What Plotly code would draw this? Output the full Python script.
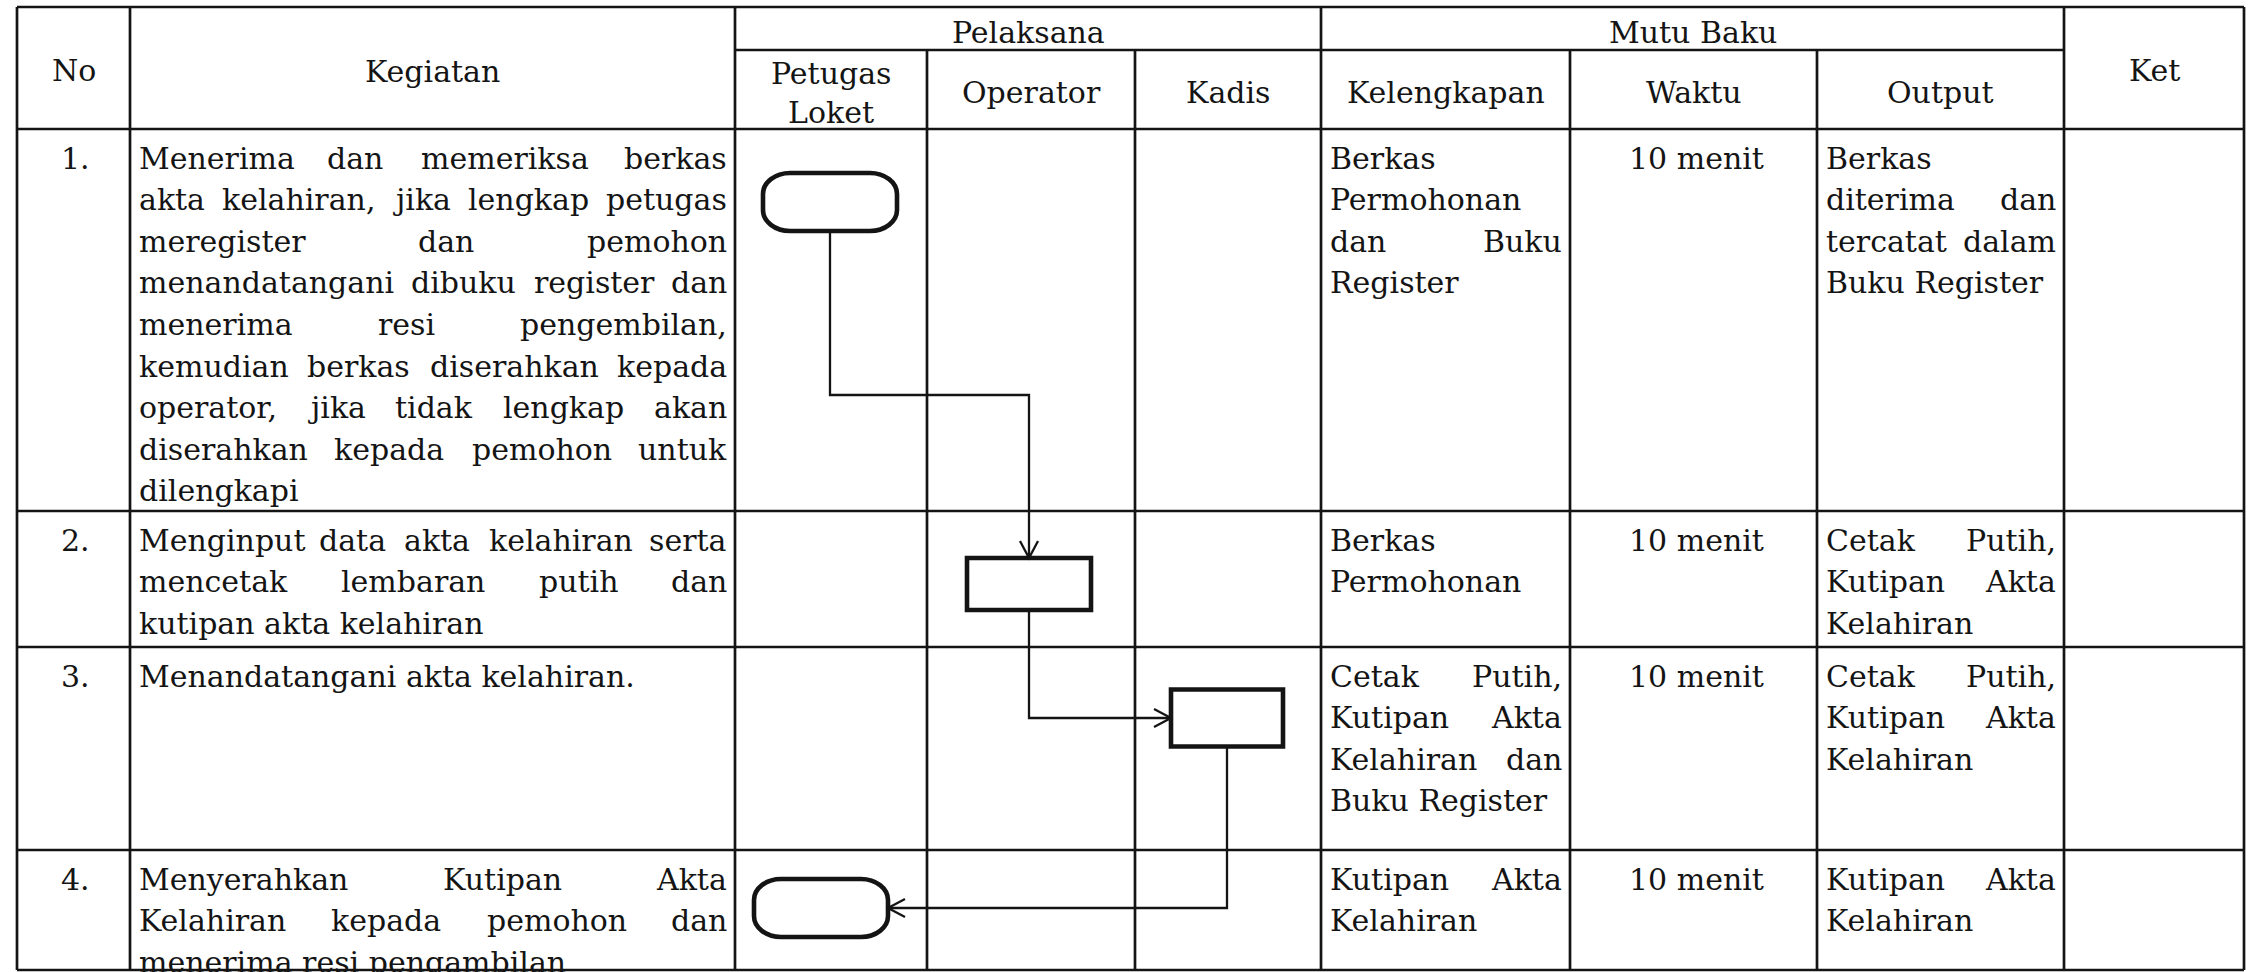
import plotly.graph_objects as go

# ---------------- data ----------------
head_no = "No"
head_kegiatan = "Kegiatan"
head_pelaksana = "Pelaksana"
head_mutu = "Mutu Baku"
head_ket = "Ket"
pelaksana_cols = [["Petugas", "Loket"], ["Operator"], ["Kadis"]]
mutu_cols = [["Kelengkapan"], ["Waktu"], ["Output"]]

step_no = ["1.", "2.", "3.", "4."]
kegiatan = [
    ["Menerima dan memeriksa berkas",
     "akta kelahiran, jika lengkap petugas",
     "meregister dan pemohon",
     "menandatangani dibuku register dan",
     "menerima resi pengembilan,",
     "kemudian berkas diserahkan kepada",
     "operator, jika tidak lengkap akan",
     "diserahkan kepada pemohon untuk",
     "dilengkapi"],
    ["Menginput data akta kelahiran serta",
     "mencetak lembaran putih dan",
     "kutipan akta kelahiran"],
    ["Menandatangani akta kelahiran."],
    ["Menyerahkan Kutipan Akta",
     "Kelahiran kepada pemohon dan",
     "menerima resi pengambilan"],
]
kelengkapan = [
    ["Berkas", "Permohonan", "dan Buku", "Register"],
    ["Berkas", "Permohonan"],
    ["Cetak Putih,", "Kutipan Akta", "Kelahiran dan", "Buku Register"],
    ["Kutipan Akta", "Kelahiran"],
]
waktu = ["10 menit", "10 menit", "10 menit", "10 menit"]
output = [
    ["Berkas", "diterima dan", "tercatat dalam", "Buku Register"],
    ["Cetak Putih,", "Kutipan Akta", "Kelahiran"],
    ["Cetak Putih,", "Kutipan Akta", "Kelahiran"],
    ["Kutipan Akta", "Kelahiran"],
]
ket = ["", "", "", ""]
actor = [0, 1, 2, 0]            # index into pelaksana columns
symbol = ["terminator", "process", "process", "terminator"]

# ---------------- layout (pixel geometry) ----------------
W, H = 2249, 972
col_x = [17, 130, 735, 927, 1135, 1321, 1570, 1817, 2064, 2244]
y_top, y_sub, y_head = 7, 50, 129
row_bot = [511, 647, 850, 970]
row_top = [y_head] + row_bot[:-1]

FS = 30
FONT = "DejaVu Serif"
INK = "#141414"
LW_TABLE = 2.7
LW_BOX = 4.6
LW_CONN = 2.3
PAD_L, PAD_R = 7, 6
FIRST_LINE = 29
PITCH = 41.6

node_size = [(134, 58), (124, 52), (112, 57), (134, 58)]
node_dy = [73, 73, 71, 58]
node_dx = [-1, -2, -1, -10]
bend_12 = 266  # elbow of first connector measured from row-1 top

# approx DejaVu Serif advance widths (em)
CW = {' ': .318, 'a': .595, 'b': .641, 'c': .562, 'd': .641, 'e': .594, 'f': .361,
      'g': .641, 'h': .644, 'i': .320, 'j': .309, 'k': .614, 'l': .320, 'm': .962,
      'n': .644, 'o': .602, 'p': .641, 'q': .641, 'r': .478, 's': .511, 't': .402,
      'u': .644, 'v': .569, 'w': .839, 'x': .569, 'y': .569, 'z': .524, ',': .318,
      '.': .318, 'B': .731, 'C': .732, 'K': .760, 'M': .914, 'P': .679, 'R': .770}


def tw(s):
    return sum(CW.get(c, .62) for c in s) * FS


fig = go.Figure()
fig.add_trace(go.Scatter(x=[0], y=[0], mode="markers", marker=dict(opacity=0),
                         hoverinfo="skip", showlegend=False))

shapes = []
annots = []


def hline(y, x0, x1, w=LW_TABLE):
    shapes.append(dict(type="line", x0=x0, x1=x1, y0=y, y1=y, xref="x", yref="y",
                       line=dict(color=INK, width=w)))


def vline(x, y0, y1, w=LW_TABLE):
    shapes.append(dict(type="line", x0=x, x1=x, y0=y0, y1=y1, xref="x", yref="y",
                       line=dict(color=INK, width=w)))


def text(x, y, s, anchor="left"):
    annots.append(dict(x=x, y=y, text=s, showarrow=False, xanchor=anchor,
                       yanchor="middle", xref="x", yref="y",
                       font=dict(family=FONT, size=FS, color=INK)))


def cell_text(lines, x0, x1, y0):
    left, right = x0 + PAD_L, x1 - PAD_R
    for i, ln in enumerate(lines):
        y = y0 + FIRST_LINE + i * PITCH
        words = ln.split()
        last = i == len(lines) - 1
        if last or len(words) == 1:
            text(left, y, ln, "left")
            continue
        widths = [tw(w) for w in words]
        gap = (right - left - sum(widths)) / (len(words) - 1)
        x = left
        for j, (wd, wv) in enumerate(zip(words, widths)):
            if j == 0:
                text(left, y, wd, "left")
            elif j == len(words) - 1:
                text(right, y, wd, "right")
            else:
                text(x + wv / 2, y, wd, "center")
            x += wv + gap


# ---------------- table grid ----------------
hline(y_top, col_x[0], col_x[-1])
hline(y_sub, col_x[2], col_x[8])
hline(y_head, col_x[0], col_x[-1])
for yb in row_bot:
    hline(yb, col_x[0], col_x[-1])
for i, x in enumerate(col_x):
    if i in (3, 4, 6, 7):
        vline(x, y_sub, row_bot[-1])
    else:
        vline(x, y_top, row_bot[-1])

# ---------------- headers ----------------
cx = [(col_x[i] + col_x[i + 1]) / 2 for i in range(len(col_x) - 1)]
text(cx[0], 70, head_no, "center")
text(cx[1], 71, head_kegiatan, "center")
text((col_x[2] + col_x[5]) / 2, 32, head_pelaksana, "center")
text((col_x[5] + col_x[8]) / 2, 32, head_mutu, "center")
text(cx[8], 70, head_ket, "center")
for k, lines in enumerate(pelaksana_cols + mutu_cols):
    n = len(lines)
    for j, s in enumerate(lines):
        y = 92 + (j - (n - 1) / 2) * 39 + (1 if n > 1 else 0)
        text(cx[2 + k], y, s, "center")

# ---------------- body text ----------------
for r in range(4):
    y0 = row_top[r]
    text(cx[0] + 2, y0 + FIRST_LINE, step_no[r], "center")
    cell_text(kegiatan[r], col_x[1], col_x[2], y0)
    cell_text(kelengkapan[r], col_x[5], col_x[6], y0)
    text(cx[6] + 3, y0 + FIRST_LINE, waktu[r], "center")
    cell_text(output[r], col_x[7], col_x[8], y0)
    if ket[r]:
        cell_text([ket[r]], col_x[8], col_x[9], y0)

# ---------------- flowchart ----------------
nodes = []
for r in range(4):
    ncx = cx[2 + actor[r]] + node_dx[r]
    ncy = row_top[r] + node_dy[r]
    w, h = node_size[r]
    nodes.append((ncx - w / 2, ncy - h / 2, ncx + w / 2, ncy + h / 2, ncx, ncy))


def rounded(x0, y0, x1, y1, rx, ry):
    k = 0.5523
    return (f"M{x0+rx},{y0} L{x1-rx},{y0} "
            f"C{x1-rx+k*rx},{y0} {x1},{y0+ry-k*ry} {x1},{y0+ry} "
            f"L{x1},{y1-ry} "
            f"C{x1},{y1-ry+k*ry} {x1-rx+k*rx},{y1} {x1-rx},{y1} "
            f"L{x0+rx},{y1} "
            f"C{x0+rx-k*rx},{y1} {x0},{y1-ry+k*ry} {x0},{y1-ry} "
            f"L{x0},{y0+ry} "
            f"C{x0},{y0+ry-k*ry} {x0+rx-k*rx},{y0} {x0+rx},{y0} Z")


for r, (x0, y0, x1, y1, ncx, ncy) in enumerate(nodes):
    if symbol[r] == "terminator":
        path = rounded(x0, y0, x1, y1, 27, 21)
    else:
        path = f"M{x0},{y0} L{x1},{y0} L{x1},{y1} L{x0},{y1} Z"
    shapes.append(dict(type="path", path=path, xref="x", yref="y",
                       line=dict(color=INK, width=LW_BOX), fillcolor="rgba(0,0,0,0)"))


def polyline(pts):
    p = "M" + " L".join(f"{x},{y}" for x, y in pts)
    shapes.append(dict(type="path", path=p, xref="x", yref="y",
                       line=dict(color=INK, width=LW_CONN)))


def arrowhead(x, y, d, L=17, Wd=9):
    if d == "down":
        pts = [(x - Wd, y - L), (x, y), (x + Wd, y - L)]
    elif d == "right":
        pts = [(x - L, y - Wd), (x, y), (x - L, y + Wd)]
    else:
        pts = [(x + L, y - Wd), (x, y), (x + L, y + Wd)]
    polyline(pts)


# 1 -> 2
a, b = nodes[0], nodes[1]
yb = row_top[0] + bend_12
polyline([(a[4], a[3]), (a[4], yb), (b[4], yb), (b[4], b[1])])
arrowhead(b[4], b[1], "down")
# 2 -> 3
a, b = nodes[1], nodes[2]
polyline([(a[4], a[3]), (a[4], b[5]), (b[0], b[5])])
arrowhead(b[0], b[5], "right")
# 3 -> 4
a, b = nodes[2], nodes[3]
polyline([(a[4], a[3]), (a[4], b[5]), (b[2], b[5])])
arrowhead(b[2], b[5], "left")

fig.update_layout(
    width=W, height=H, margin=dict(l=0, r=0, t=0, b=0),
    paper_bgcolor="white", plot_bgcolor="white",
    xaxis=dict(range=[0, W], visible=False, fixedrange=True),
    yaxis=dict(range=[H, 0], visible=False, fixedrange=True),
    shapes=shapes, annotations=annots, showlegend=False,
)

fig.write_html("out.html", config={"displayModeBar": False, "staticPlot": True},
               post_script="document.body.style.margin='0';document.body.style.overflow='hidden';")
